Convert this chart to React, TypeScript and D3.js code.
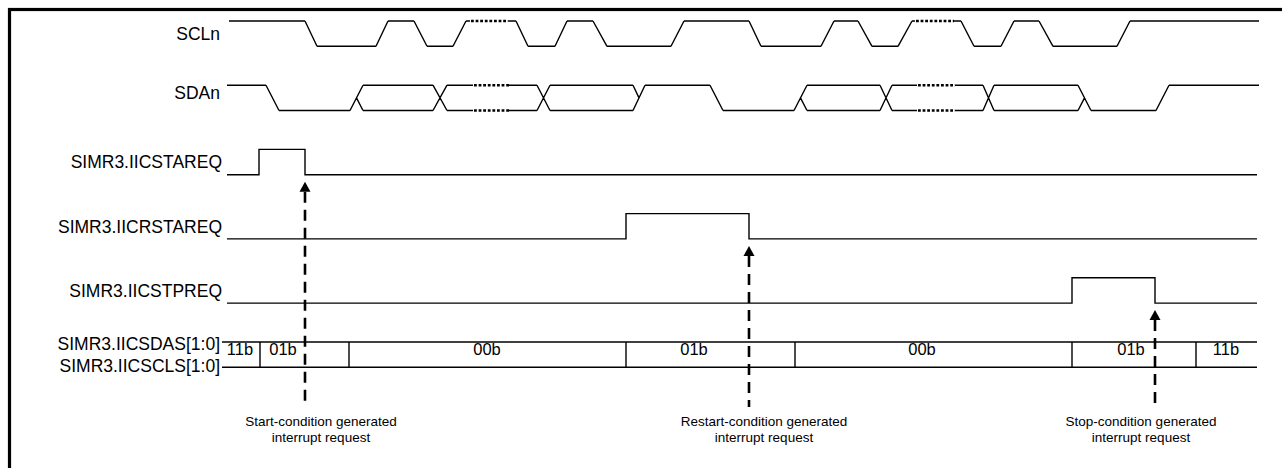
import React from 'react';
import * as d3 from 'd3';

type St = 'H' | 'L' | 'X';

// Row labels
const WAVE_LABELS = ['SCLn', 'SDAn'];
const WAVE_LABEL_SHIFT = [0, -5];
const REQ_LABELS = ['SIMR3.IICSTAREQ', 'SIMR3.IICRSTAREQ', 'SIMR3.IICSTPREQ'];
const BUS_LABELS = ['SIMR3.IICSDAS[1:0]', 'SIMR3.IICSCLS[1:0]'];

// SCLn waveform (time units): transitions [start, end, newState]
const SCL_RANGE = [229, 1259];
const SCL_TRANS: [number, number, St][] = [
  [305, 317, 'L'], [376, 388, 'H'], [414, 427, 'L'], [453, 466, 'H'],
  [516, 528, 'L'], [555, 567, 'H'], [593, 607, 'L'], [671, 684, 'H'],
  [749, 761, 'L'], [821, 834, 'H'], [858, 872, 'L'], [898, 912, 'H'],
  [961, 974, 'L'], [1001, 1014, 'H'], [1039, 1053, 'L'], [1117, 1130, 'H'],
];
const SCL_DOTS: [number, number][] = [[470, 508], [915, 954]];

// SDAn waveform
const SDA_RANGE = [227, 1259];
const SDA_TRANS: [number, number, St][] = [
  [266, 279, 'L'], [350, 363, 'X'], [433, 447, 'X'], [537, 550, 'X'],
  [633, 645, 'H'], [710, 723, 'L'], [794, 807, 'X'], [880, 892, 'X'],
  [983, 994, 'X'], [1078, 1091, 'L'], [1156, 1169, 'H'],
];
const SDA_DOTS: [number, number][] = [[473, 509], [917, 955]];

// Request pulses [rise, fall]
const REQ_RANGE = [227, 1257];
const REQ_PULSES: [number, number][] = [[259, 305], [626, 749], [1072, 1155]];

// Bus
const BUS_RANGE = [222, 1257];
const BUS_DIVIDERS = [260, 349, 626, 795, 1072, 1196];
const BUS_VALUES = ['11b', '01b', '00b', '01b', '00b', '01b', '11b'];
const BUS_VALUE_POS = [240, 283, 487, 694, 922, 1131, 1226];

// Interrupt annotations
const NOTE_POS = [321, 764, 1141];
const NOTES = [
  ['Start-condition generated', 'interrupt request'],
  ['Restart-condition generated', 'interrupt request'],
  ['Stop-condition generated', 'interrupt request'],
];

const FONT = '"Liberation Sans", Arial, Helvetica, sans-serif';

const x = d3.scaleLinear().domain([0, 1282]).range([0, 1282]);
const rowTop = d3.scaleLinear().domain([0, 5]).range([21, 342]);
const ROW_H = 25.3;

function wavePath(range: number[], trans: [number, number, St][], init: St, row: number): string {
  const hi = rowTop(row);
  const lo = hi + ROW_H;
  const mid = (hi + lo) / 2;
  const p = d3.path();
  const seg = (x0: number, y0: number, x1: number, y1: number) => {
    p.moveTo(x(x0), y0);
    p.lineTo(x(x1), y1);
  };
  const steady = (a: number, b: number, s: St) => {
    if (b <= a) return;
    if (s === 'H' || s === 'X') seg(a, hi, b, hi);
    if (s === 'L' || s === 'X') seg(a, lo, b, lo);
  };
  let cur = range[0];
  let st = init;
  for (const [t0, t1, to] of trans) {
    steady(cur, t0, st);
    const m = (t0 + t1) / 2;
    if (st === 'H' && to === 'L') seg(t0, hi, t1, lo);
    else if (st === 'L' && to === 'H') seg(t0, lo, t1, hi);
    else if (st === 'L' && to === 'X') { seg(t0, lo, t1, hi); seg(m, mid, t1, lo); }
    else if (st === 'H' && to === 'X') { seg(t0, hi, t1, lo); seg(m, mid, t1, hi); }
    else if (st === 'X' && to === 'X') { seg(t0, hi, t1, lo); seg(t0, lo, t1, hi); }
    else if (st === 'X' && to === 'H') { seg(t0, lo, t1, hi); seg(t0, hi, m, mid); }
    else if (st === 'X' && to === 'L') { seg(t0, hi, t1, lo); seg(t0, lo, m, mid); }
    cur = t1;
    st = to;
  }
  steady(cur, range[1], st);
  return p.toString();
}

function pulsePath(row: number, pulse: [number, number]): string {
  const hi = rowTop(row);
  const lo = hi + ROW_H;
  const line = d3.line<[number, number]>().x(d => x(d[0])).y(d => d[1]);
  return line([
    [REQ_RANGE[0], lo], [pulse[0], lo], [pulse[0], hi], [pulse[1], hi],
    [pulse[1], lo], [REQ_RANGE[1], lo],
  ]) || '';
}

function Dots({ row, dots, both }: { row: number; dots: [number, number][]; both: boolean }) {
  const hi = rowTop(row);
  const lo = hi + ROW_H;
  const ys = both ? [hi, lo] : [hi];
  return (
    <g>
      {dots.map((d, i) =>
        ys.map((yy, j) => (
          <g key={`${i}-${j}`}>
            <line x1={x(d[0])} x2={x(d[1])} y1={yy} y2={yy} stroke="#fff" strokeWidth={4} />
            <line x1={x(d[0]) + 1} x2={x(d[1])} y1={yy} y2={yy} stroke="#000"
              strokeWidth={2.4} strokeDasharray="2.8 1.8" />
          </g>
        ))
      )}
    </g>
  );
}

export default function App() {
  const labelRight = 220;
  const busTop = rowTop(5);
  const busBot = busTop + ROW_H;
  return (
    <svg width={1282} height={468} style={{ position: 'fixed', left: 0, top: 0, background: '#fff' }}
      fontFamily={FONT}>
      <rect x={9.5} y={9.5} width={1400} height={600} fill="#fff" stroke="#000" strokeWidth={3.2} />

      {WAVE_LABELS.map((l, i) => (
        <text key={l} x={labelRight} y={rowTop(i) + ROW_H / 2 + WAVE_LABEL_SHIFT[i]} dy="0.36em" textAnchor="end" fontSize={17.5}>{l}</text>
      ))}
      {REQ_LABELS.map((l, i) => (
        <text key={l} x={labelRight + 2} y={rowTop(i + 2) + ROW_H / 2} dy="0.36em" textAnchor="end" fontSize={17.5}>{l}</text>
      ))}
      <text x={labelRight} y={busTop + 2} dy="0.36em" textAnchor="end" fontSize={17.5}>{BUS_LABELS[0]}</text>
      <text x={labelRight} y={busBot - 2} dy="0.36em" textAnchor="end" fontSize={17.5}>{BUS_LABELS[1]}</text>

      <g fill="none" stroke="#000" strokeWidth={1.4}>
        <path d={wavePath(SCL_RANGE, SCL_TRANS, 'H', 0)} />
        <path d={wavePath(SDA_RANGE, SDA_TRANS, 'H', 1)} />
        {REQ_PULSES.map((p, i) => <path key={i} d={pulsePath(i + 2, p)} />)}
        <line x1={x(BUS_RANGE[0])} x2={x(BUS_RANGE[1])} y1={busTop} y2={busTop} />
        <line x1={x(BUS_RANGE[0])} x2={x(BUS_RANGE[1])} y1={busBot} y2={busBot} />
        {BUS_DIVIDERS.map((d, i) => <line key={i} x1={x(d)} x2={x(d)} y1={busTop} y2={busBot} />)}
      </g>
      <Dots row={0} dots={SCL_DOTS} both={false} />
      <Dots row={1} dots={SDA_DOTS} both={true} />

      {BUS_VALUES.map((v, i) => (
        <text key={i} x={x(BUS_VALUE_POS[i])} y={busTop + 7} dy="0.36em" textAnchor="middle" fontSize={16.5}>{v}</text>
      ))}

      {REQ_PULSES.map((p, i) => {
        const lo = rowTop(i + 2) + ROW_H;
        const ax = x(p[1]);
        const tip = lo + 7;
        const base = tip + 10;
        return (
          <g key={i}>
            <path d={`M${ax},${tip}L${ax - 5.5},${base}L${ax + 5.5},${base}Z`} fill="#000" />
            <line x1={ax} x2={ax} y1={base} y2={407} stroke="#000" strokeWidth={2.6} strokeDasharray="11 7" />
          </g>
        );
      })}

      {NOTES.map((lines, i) => (
        <text key={i} x={x(NOTE_POS[i])} y={425.5} textAnchor="middle" fontSize={13.5}>
          <tspan x={x(NOTE_POS[i])}>{lines[0]}</tspan>
          <tspan x={x(NOTE_POS[i])} dy={16}>{lines[1]}</tspan>
        </text>
      ))}
    </svg>
  );
}
